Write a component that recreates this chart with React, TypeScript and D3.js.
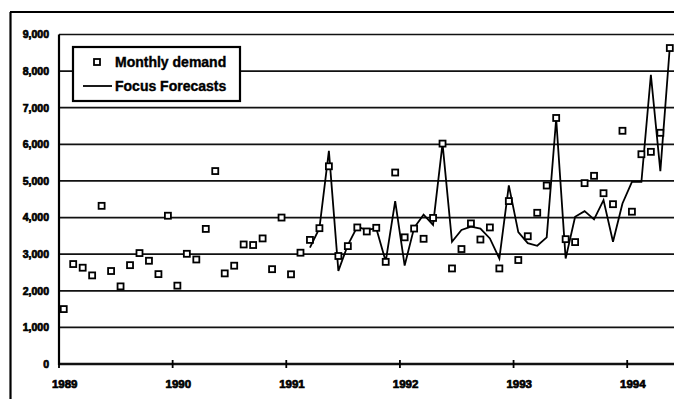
import React from "react";
import * as d3 from "d3";

const yearLabels = ["1989", "1990", "1991", "1992", "1993", "1994"];
const yTicks = [0, 1000, 2000, 3000, 4000, 5000, 6000, 7000, 8000, 9000];

// Monthly demand, Jan 1989 .. May 1994
const demand = [
  1500, 2730, 2630, 2420, 4320, 2540, 2120, 2700, 3030, 2820, 2455, 4050,
  2140, 3010, 2855, 3690, 5270, 2475, 2685, 3265, 3250, 3430, 2590, 4000,
  2450, 3040, 3390, 3710, 5400, 2950, 3220, 3730, 3620, 3720, 2790, 5230,
  3460, 3700, 3420, 3990, 6020, 2610, 3140, 3840, 3400, 3730, 2610, 4450,
  2840, 3490, 4130, 4875, 6720, 3410, 3330, 4940, 5140, 4665, 4365, 6370,
  4160, 5730, 5795, 6315, 8630,
];

// Focus Forecasts, starting Mar 1991 (month index 26)
const forecastStart = 26;
const forecast = [
  3180, 3710, 5820, 2545, 3250, 3750, 3660, 3710, 2800, 4450,
  2690, 3720, 4080, 3800, 6020, 3340, 3660, 3750, 3700, 3430, 2880, 4880,
  3600, 3300, 3230, 3460, 6700, 2880, 4020, 4175, 3950, 4475, 3340, 4385,
  4975, 4975, 7900, 5270, 8660,
];

export default function App() {
  const W = 674;
  const H = 399;
  const x = d3.scaleLinear().domain([0, 65]).range([59, 59 + 65 * 9.47]);
  const y = d3.scaleLinear().domain([0, 9000]).range([364, 34.5]);
  const font = "'Liberation Sans', Arial, sans-serif";

  const fPts: [number, number][] = forecast.map((v, i) => [x(forecastStart + i + 0.5), y(v)]);
  const line = d3.line().curve(d3.curveLinear)(fPts) || "";
  const fmt = d3.format(",");

  return (
    <svg
      width={W}
      height={H}
      style={{ position: "absolute", left: 0, top: 0, display: "block", background: "#fff" }}
    >
      {/* outer frame */}
      <line x1={10} y1={12} x2={W} y2={12} stroke="#000" strokeWidth={2.2} />
      <line x1={10.5} y1={12} x2={10.5} y2={H} stroke="#000" strokeWidth={2.2} />

      {/* gridlines */}
      {yTicks.map((t) => (
        <line
          key={"g" + t}
          x1={x(0)}
          x2={W}
          y1={y(t)}
          y2={y(t)}
          stroke="#111"
          strokeWidth={t === 0 ? 2.4 : 1.7}
        />
      ))}
      {/* y axis */}
      <line x1={x(0)} x2={x(0)} y1={y(9000)} y2={y(0) + 1} stroke="#000" strokeWidth={2.2} />

      {/* y labels */}
      {yTicks.map((t) => (
        <text
          key={"yl" + t}
          x={49}
          y={y(t)}
          dy="0.36em"
          textAnchor="end"
          fontFamily={font}
          fontWeight="bold"
          fontSize={10.5}
          fill="#000"
          stroke="#000"
          strokeWidth={0.7}
        >
          {fmt(t)}
        </text>
      ))}

      {/* x ticks and labels */}
      {yearLabels.map((lab, i) => (
        <g key={lab}>
          <line x1={x(i * 12)} x2={x(i * 12)} y1={y(0) - 4} y2={y(0) + 4} stroke="#000" strokeWidth={1.8} />
          <text
            x={x(i * 12 + 0.6)}
            y={388}
            textAnchor="middle"
            fontFamily={font}
            fontWeight="bold"
            fontSize={11.5}
            fill="#000"
            stroke="#000"
            strokeWidth={0.7}
          >
            {lab}
          </text>
        </g>
      ))}

      {/* forecast line */}
      <path d={line} fill="none" stroke="#000" strokeWidth={1.8} strokeLinejoin="miter" />

      {/* demand markers */}
      {demand.map((v, i) => (
        <rect
          key={"d" + i}
          x={x(i + 0.5) - 3}
          y={y(v) - 3}
          width={6}
          height={6}
          fill="#fff"
          stroke="#000"
          strokeWidth={1.8}
        />
      ))}

      {/* legend */}
      <rect x={73} y={47} width={167} height={54} fill="#fff" stroke="#000" strokeWidth={2.2} />
      <rect x={94} y={59} width={6} height={6} fill="#fff" stroke="#000" strokeWidth={1.8} />
      <text x={115} y={66.5} fontFamily={font} fontWeight="bold" fontSize={14} fill="#000" stroke="#000" strokeWidth={0.4}>
        Monthly demand
      </text>
      <line x1={83} x2={112} y1={86} y2={86} stroke="#000" strokeWidth={1.8} />
      <text x={115} y={91} fontFamily={font} fontWeight="bold" fontSize={14} fill="#000" stroke="#000" strokeWidth={0.4}>
        Focus Forecasts
      </text>
    </svg>
  );
}
